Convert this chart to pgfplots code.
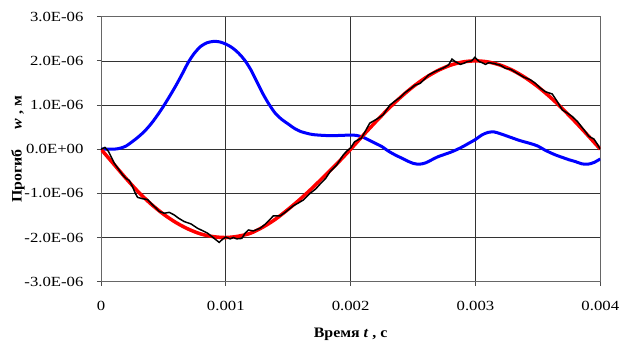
\documentclass[border=0pt]{standalone}
\usepackage{fontspec}
\setmainfont{Liberation Serif}
\newfontfamily\tickfont{Liberation Serif}[FakeStretch=1.2]
\newfontfamily\labfont{Liberation Serif}[FakeStretch=1.1]
\usepackage{pgfplots}
\pgfplotsset{compat=1.18}
\begin{document}
\begin{tikzpicture}
\begin{axis}[
  scale only axis,
  width=499.3bp, height=265bp,
  xmin=0, xmax=4, ymin=-3, ymax=3,
  xtick={0,1,2,3,4},
  xticklabels={0,0.001,0.002,0.003,0.004},
  ytick={-3,-2,-1,0,1,2,3},
  yticklabels={-3.0E-06,-2.0E-06,-1.0E-06,0.0E+00,1.0E-06,2.0E-06,3.0E-06},
  grid=major,
  grid style={black!80, line width=0.7bp},
  axis line style={black!60, line width=0.9bp},
  tick style={black!70, line width=0.8bp},
  tick align=outside,
  major tick length=4bp,
  xtick pos=bottom, ytick pos=left,
  ticklabel style={font=\tickfont\fontsize{14}{16}\selectfont},
  xticklabel style={yshift=-12bp},
  yticklabel style={xshift=-10bp},
  xlabel={\textbf{Время \textit{t} , с}},
  ylabel={\textbf{Прогиб\ \ \ \ \ \textit{w} , м}},
  label style={font=\labfont\fontsize{14.5}{16}\selectfont},
  xlabel style={at={(axis description cs:0.5,-0.2)}, anchor=center},
  ylabel style={at={(axis description cs:-0.1662,0.5)}, anchor=center},
]
\addplot[blue, line width=3bp, smooth] coordinates {
(0,0) (0.10,0.0) (0.15,0.02) (0.20,0.07) (0.25,0.17) (0.30,0.28) (0.35,0.41)
(0.40,0.57) (0.45,0.76) (0.50,0.97) (0.55,1.20) (0.60,1.44) (0.65,1.70)
(0.70,1.97) (0.75,2.18) (0.80,2.33) (0.85,2.41) (0.90,2.44) (0.95,2.43)
(1.00,2.38) (1.05,2.30) (1.10,2.18) (1.15,2.02) (1.20,1.80) (1.25,1.52)
(1.30,1.24) (1.35,1.00) (1.40,0.80) (1.45,0.67) (1.50,0.57) (1.55,0.47)
(1.60,0.40) (1.65,0.36) (1.70,0.33) (1.80,0.31) (1.90,0.31) (2.00,0.32)
(2.05,0.31) (2.10,0.27) (2.15,0.20) (2.20,0.13) (2.25,0.06) (2.30,-0.04)
(2.35,-0.12) (2.40,-0.19) (2.45,-0.26) (2.50,-0.32) (2.55,-0.34) (2.60,-0.31)
(2.65,-0.24) (2.70,-0.17) (2.75,-0.12) (2.80,-0.07) (2.85,-0.01) (2.90,0.06)
(2.95,0.14) (3.00,0.22) (3.05,0.32) (3.10,0.38) (3.15,0.39) (3.20,0.35)
(3.25,0.30) (3.30,0.25) (3.35,0.20) (3.40,0.16) (3.45,0.12) (3.50,0.07)
(3.55,-0.01) (3.60,-0.08) (3.65,-0.14) (3.70,-0.19) (3.75,-0.24) (3.80,-0.28)
(3.85,-0.33) (3.90,-0.34) (3.95,-0.30) (4.00,-0.22)
};
\addplot[red, line width=3.5bp, smooth] coordinates {
(0,0) (0.1,-0.33) (0.2,-0.66) (0.3,-0.97) (0.4,-1.24) (0.5,-1.47) (0.6,-1.66)
(0.7,-1.81) (0.8,-1.92) (0.9,-1.98) (1.0,-2.0) (1.1,-1.97) (1.2,-1.90)
(1.3,-1.76) (1.4,-1.58) (1.5,-1.36) (1.6,-1.12) (1.7,-0.86) (1.8,-0.58)
(1.9,-0.30) (2.0,0.0) (2.1,0.3129) (2.2,0.618) (2.3,0.908) (2.4,1.1756)
(2.5,1.4142) (2.6,1.618) (2.7,1.782) (2.8,1.9021) (2.9,1.9754) (3.0,2.0)
(3.1,1.9754) (3.2,1.9021) (3.3,1.782) (3.4,1.618) (3.5,1.4142) (3.6,1.1756)
(3.7,0.908) (3.8,0.618) (3.9,0.3129) (4.0,0)
};
\addplot[black, line width=1.5bp] coordinates {
(0,0) (0.032,0.04) (0.06,-0.05) (0.107,-0.32) (0.14,-0.45) (0.173,-0.58)
(0.20,-0.66) (0.227,-0.71) (0.253,-0.85) (0.275,-1.00) (0.293,-1.09)
(0.33,-1.12) (0.373,-1.14) (0.413,-1.26) (0.44,-1.33) (0.467,-1.41)
(0.507,-1.45) (0.547,-1.43) (0.587,-1.49) (0.62,-1.56) (0.667,-1.64)
(0.72,-1.69) (0.773,-1.79) (0.81,-1.84) (0.853,-1.90) (0.907,-2.02)
(0.947,-2.11) (0.973,-2.04) (1.0,-1.99) (1.035,-2.03) (1.06,-2.00)
(1.088,-2.03) (1.128,-2.02) (1.155,-1.90) (1.181,-1.83) (1.221,-1.85)
(1.275,-1.79) (1.315,-1.70) (1.35,-1.60) (1.381,-1.51) (1.435,-1.51)
(1.475,-1.43) (1.541,-1.28) (1.58,-1.22) (1.621,-1.15) (1.675,-1.00)
(1.72,-0.90) (1.755,-0.79) (1.80,-0.66) (1.835,-0.51) (1.888,-0.36)
(1.941,-0.13) (1.97,-0.04) (2.0,0.03) (2.032,0.17) (2.086,0.25) (2.12,0.42)
(2.153,0.59) (2.19,0.65) (2.22,0.70) (2.261,0.78) (2.29,0.90) (2.315,1.00)
(2.355,1.09) (2.40,1.18) (2.435,1.28) (2.48,1.37) (2.516,1.45) (2.556,1.49)
(2.59,1.58) (2.624,1.68) (2.67,1.75) (2.718,1.81) (2.75,1.85) (2.785,1.91)
(2.812,2.04) (2.839,1.98) (2.879,1.92) (2.91,1.95) (2.933,1.98) (2.97,2.00)
(2.995,2.08) (3.027,1.99) (3.06,1.95) (3.08,1.92) (3.107,1.96) (3.147,1.94)
(3.20,1.90) (3.241,1.83) (3.281,1.81) (3.334,1.72) (3.388,1.63) (3.441,1.57)
(3.481,1.49) (3.521,1.38) (3.561,1.30) (3.615,1.25) (3.655,1.08) (3.695,0.89)
(3.735,0.82) (3.775,0.74) (3.816,0.63) (3.869,0.44) (3.909,0.29) (3.949,0.23)
(3.975,0.12) (4.0,0.0)
};
\end{axis}
\pgfresetboundingbox
\path[use as bounding box] ([shift={(-101bp,-60.3bp)}]current axis.south west) rectangle ([shift={(24.7bp,16.7bp)}]current axis.north east);
\end{tikzpicture}
\end{document}
